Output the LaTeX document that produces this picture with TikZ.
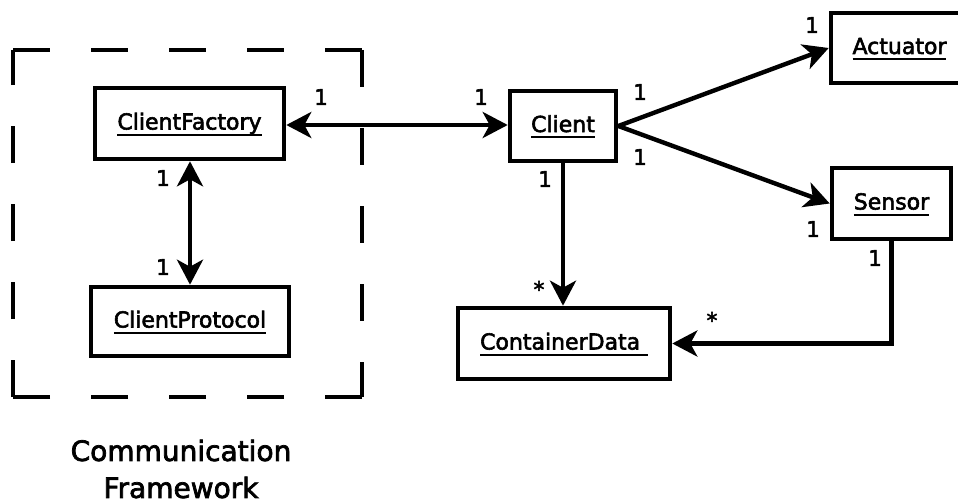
\documentclass[tikz,border=0pt]{standalone}
\usepackage{fontspec}
\setmainfont{DejaVu Sans}[AutoFakeBold=2.6]
\usetikzlibrary{arrows.meta}

% underlined class name with a fixed rule just below the baseline
\newcommand\clsname[1]{\setbox0\hbox{#1}\rlap{\smash{\rule[-6pt]{\wd0}{2pt}}}\box0}

\tikzset{
  classbox/.style={draw, line width=4.6pt, inner sep=0pt, align=center,
    font=\fontsize{22}{26}\selectfont\bfseries, text height=16pt, text depth=4pt},
  mult/.style={font=\fontsize{21.5}{24}\selectfont\bfseries, inner sep=0pt},
  assoc/.style={line width=4.4pt, line join=miter},
  tip/.tip={Stealth[length=25pt, width=26pt, inset=7pt]},
  frame/.style={line width=4.2pt, dash pattern=on 37pt off 41pt}
}

\begin{document}
\begin{tikzpicture}[x=1pt, y=-1pt]
\useasboundingbox (0,0) rectangle (958,503);

% communication framework boundary, one dashed side at a time
\coordinate (fa) at (13,50);
\coordinate (fb) at (362,50);
\coordinate (fc) at (362,397);
\coordinate (fd) at (13,397);
\draw[frame] (fa) -- (fb);
\draw[frame] (fb) -- (fc);
\draw[frame] (fc) -- (fd);
\draw[frame] (fd) -- (fa);

% classes
\node[classbox, minimum width=189pt, minimum height=71pt] (cf) at (189.5,123.5) {\clsname{ClientFactory}};
\node[classbox, minimum width=198pt, minimum height=69pt] (cp) at (190,321.5) {\clsname{ClientProtocol}};
\node[classbox, minimum width=106pt, minimum height=70pt] (cl) at (563,126) {\clsname{Client}};
\node[classbox, minimum width=137pt, minimum height=70pt] (ac) at (899.5,48) {\clsname{Actuator}};
\node[classbox, minimum width=119pt, minimum height=71pt] (se) at (891.5,203.5) {\clsname{Sensor}};
\node[classbox, minimum width=212pt, minimum height=71pt] (cd) at (564,343.5) {\clsname{ContainerData\hspace{0.35em}}};

% associations
\draw[assoc, tip-tip] (cf.east |- 0,125) -- (cl.west |- 0,125);
\draw[assoc, tip-tip] (cf.south -| 190,0) -- (cp.north -| 190,0);
\draw[assoc, -tip] (cl.east) -- (ac.west);
\draw[assoc, -tip] (cl.east) -- (se.west);
\draw[assoc, -tip] (cl.south) -- (cl.south |- cd.north);
\draw[assoc, -tip] (se.south) |- (cd.east);

% multiplicities
\node[mult] (m1) at (321,97) {1};
\node[mult] (m2) at (481,97) {1};
\node[mult] (m3) at (163,178) {1};
\node[mult] (m4) at (163,267) {1};
\node[mult] (m5) at (640,92) {1};
\node[mult] (m6) at (640,157) {1};
\node[mult] (m7) at (545,179) {1};
\node[mult] (m8) at (539,289) {*};
\node[mult] (m9) at (812,25) {1};
\node[mult] (m10) at (813,229) {1};
\node[mult] (m11) at (875,258) {1};
\node[mult] (m12) at (712,320) {*};

% package caption
\node[align=center, inner sep=0pt, font=\fontsize{28}{37}\selectfont\bfseries] (cap) at (181,469) {Communication\\Framework};
\end{tikzpicture}
\end{document}
